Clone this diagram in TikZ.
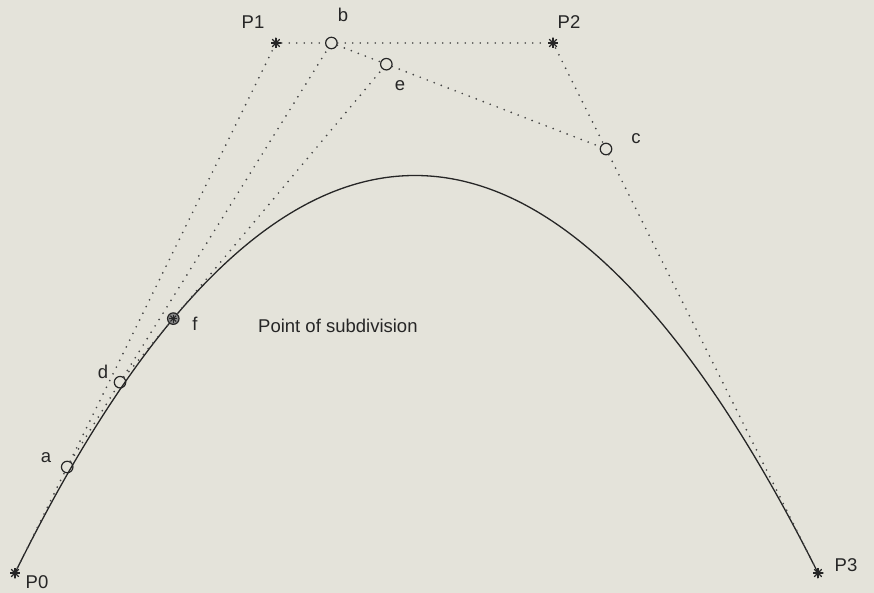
\documentclass[tikz,border=0pt]{standalone}
\usepackage{fontspec}
\setmainfont{Liberation Sans}
\usetikzlibrary{calc}
\definecolor{cBg}{HTML}{E4E3DA}
\definecolor{cInk}{HTML}{262626}
\definecolor{cDot}{HTML}{454545}
\tikzset{
  lbl/.style={font=\fontsize{18.5}{22}\selectfont, text=cInk, inner sep=0pt},
  ctrl/.style={circle, minimum size=11pt, inner sep=0pt, path picture={
      \foreach \ang in {0,45,90,135}
        \draw[cInk, line width=1.2pt]
          ($(path picture bounding box.center)+(\ang:5.5pt)$) --
          ($(path picture bounding box.center)+(\ang+180:5.5pt)$);}},
  mid/.style={circle, draw=cInk, line width=1.2pt, minimum size=11.5pt, inner sep=0pt},
  split/.style={mid, fill=cInk!55, path picture={
      \foreach \ang in {0,45,90,135}
        \draw[cInk, line width=1pt]
          ($(path picture bounding box.center)+(\ang:4pt)$) --
          ($(path picture bounding box.center)+(\ang+180:4pt)$);}},
  hull/.style={draw=cDot, line width=1.9pt, line cap=round, dash pattern=on 0pt off 7.5pt},
  curve/.style={draw=cInk, line width=1.3pt},
}
\begin{document}
\begin{tikzpicture}[x=1pt, y=-1pt]
    \fill[cBg] (0,0) rectangle (874,593);
    \useasboundingbox (0,0) rectangle (874,593);
    % --- control polygon ---
    \coordinate (p0) at (15,573);
    \coordinate (p1) at (276,43);
    \coordinate (p2) at (553,43);
    \coordinate (p3) at (818,573);
    % --- de Casteljau points ---
    \coordinate (pa) at ($(p0)!0.2!(p1)$);
    \coordinate (pb) at ($(p1)!0.2!(p2)$);
    \coordinate (pc) at ($(p2)!0.2!(p3)$);
    \coordinate (pd) at ($(pa)!0.2!(pb)$);
    \coordinate (pe) at ($(pb)!0.2!(pc)$);
    \coordinate (pf) at ($(pd)!0.2!(pe)$);
    % --- curve ---
    \draw[curve] (p0) .. controls (p1) and (p2) .. (p3);
    % --- markers ---
    \node[ctrl] (P0) at (p0) {};
    \node[ctrl] (P1) at (p1) {};
    \node[ctrl] (P2) at (p2) {};
    \node[ctrl] (P3) at (p3) {};
    \node[mid] (a) at (pa) {};
    \node[mid] (b) at (pb) {};
    \node[mid] (c) at (pc) {};
    \node[mid] (d) at (pd) {};
    \node[mid] (e) at (pe) {};
    \node[split] (f) at (pf) {};
    % --- dotted hull lines ---
    \draw[hull] (P0) -- (a);
    \draw[hull] (a) -- (P1);
    \draw[hull] (P1) -- (b);
    \draw[hull] (b) -- (P2);
    \draw[hull] (P2) -- (c);
    \draw[hull] (c) -- (P3);
    \draw[hull] (a) -- (d);
    \draw[hull] (d) -- (b);
    \draw[hull] (b) -- (e);
    \draw[hull] (e) -- (c);
    \draw[hull] (d) -- (f);
    \draw[hull] (f) -- (e);
    % --- labels ---
    \node[lbl] (lP0) at (37,582) {P0};
    \node[lbl] (lP1) at (253,22) {P1};
    \node[lbl] (lP2) at (569,22) {P2};
    \node[lbl] (lP3) at (846,565) {P3};
    \node[lbl] (la) at (46,458) {a};
    \node[lbl] (lb) at (343,15) {b};
    \node[lbl] (lc) at (636,139) {c};
    \node[lbl] (ld) at (103,372) {d};
    \node[lbl] (le) at (400,86) {e};
    \node[lbl] (lf) at (195,324) {f};
    \node[lbl, anchor=west] (lsub) at (258,326) {Point of subdivision};
\end{tikzpicture}
\end{document}
